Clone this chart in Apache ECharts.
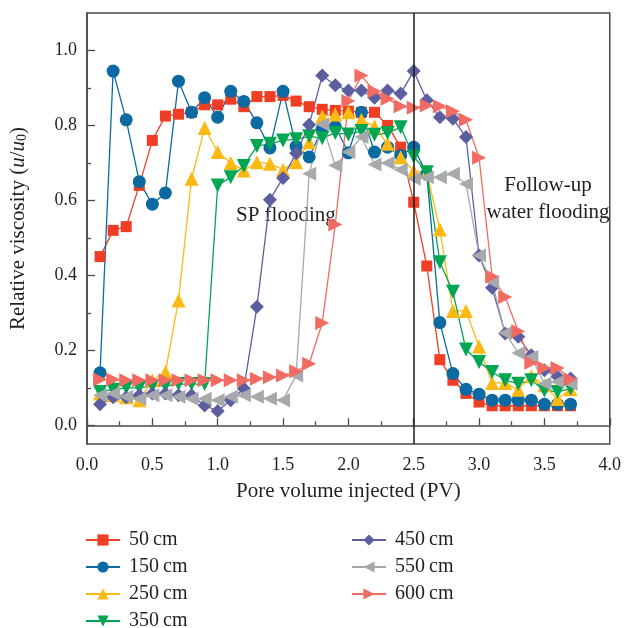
<!DOCTYPE html>
<html>
<head>
<meta charset="utf-8">
<script src="https://cdn.jsdelivr.net/npm/echarts@6/dist/echarts.min.js"></script>
<style>
  html, body { margin: 0; padding: 0; background: #ffffff; }
  #chart { width: 624px; height: 628px; }
</style>
</head>
<body>
<div id="chart"></div>
<script>
// Pore volume injected (PV) at each sampling step
const pv = [0.1, 0.2, 0.3, 0.4, 0.5, 0.6, 0.7, 0.8, 0.9, 1.0,
            1.1, 1.2, 1.3, 1.4, 1.5, 1.6, 1.7, 1.8, 1.9, 2.0,
            2.1, 2.2, 2.3, 2.4, 2.5, 2.6, 2.7, 2.8, 2.9, 3.0,
            3.1, 3.2, 3.3, 3.4, 3.5, 3.6, 3.7];

// Relative viscosity u/u0 measured at each sampling point along the core
const cm50  = [0.45, 0.52, 0.53, 0.64, 0.76, 0.825, 0.83, 0.835, 0.855, 0.855,
               0.87, 0.85, 0.877, 0.877, 0.88, 0.865, 0.85, 0.843, 0.84, 0.838,
               0.835, 0.835, 0.80, 0.742, 0.595, 0.425, 0.175, 0.12, 0.085, 0.062,
               0.052, 0.052, 0.052, 0.052, 0.052, 0.052, 0.052];
const cm150 = [0.14, 0.945, 0.815, 0.65, 0.59, 0.62, 0.918, 0.835, 0.874, 0.822,
               0.891, 0.864, 0.807, 0.74, 0.891, 0.744, 0.716, 0.79, 0.797, 0.727,
               0.835, 0.729, 0.742, 0.72, 0.742, 0.67, 0.274, 0.138, 0.096, 0.083,
               0.067, 0.067, 0.067, 0.067, 0.056, 0.056, 0.056];
const cm250 = [0.085, 0.08, 0.075, 0.067, 0.12, 0.142, 0.333, 0.658, 0.793, 0.729,
               0.70, 0.68, 0.702, 0.698, 0.682, 0.702, 0.755, 0.824, 0.829, 0.835,
               0.815, 0.797, 0.751, 0.715, 0.678, 0.675, 0.522, 0.305, 0.305, 0.21,
               0.113, 0.113, 0.095, 0.131, 0.107, 0.07, 0.096];
const cm350 = [0.089, 0.095, 0.1, 0.1, 0.105, 0.105, 0.11, 0.11, 0.11, 0.64,
               0.662, 0.692, 0.745, 0.751, 0.76, 0.763, 0.771, 0.766, 0.78, 0.776,
               0.785, 0.775, 0.78, 0.795, 0.717, 0.675, 0.435, 0.356, 0.202, 0.169,
               0.142, 0.12, 0.111, 0.12, 0.093, 0.089, 0.098];
const cm450 = [0.056, 0.075, 0.075, 0.08, 0.085, 0.085, 0.08, 0.08, 0.053, 0.038,
               0.067, 0.098, 0.316, 0.602, 0.66, 0.726, 0.802, 0.933, 0.907, 0.893,
               0.893, 0.874, 0.893, 0.885, 0.945, 0.867, 0.822, 0.818, 0.769, 0.453,
               0.367, 0.245, 0.236, 0.187, 0.147, 0.13, 0.125];
const cm550 = [0.08, 0.085, 0.076, 0.071, 0.08, 0.08, 0.076, 0.071, 0.071, 0.067,
               0.076, 0.08, 0.076, 0.071, 0.067, 0.133, 0.671, 0.803, 0.693, 0.729,
               0.769, 0.696, 0.70, 0.682, 0.658, 0.662, 0.662, 0.671, 0.644, 0.453,
               0.382, 0.246, 0.193, 0.182, 0.111, 0.116, 0.111];
const cm600 = [0.122, 0.122, 0.12, 0.12, 0.12, 0.12, 0.12, 0.12, 0.12, 0.12,
               0.12, 0.12, 0.124, 0.128, 0.133, 0.144, 0.164, 0.273, 0.536, 0.865,
               0.933, 0.891, 0.871, 0.851, 0.847, 0.853, 0.851, 0.838, 0.815, 0.714,
               0.397, 0.342, 0.251, 0.167, 0.153, 0.153, 0.123];

// Legend names (distance from the injection end)
const names = ['50\u2009cm', '150\u2009cm', '250\u2009cm', '350\u2009cm',
               '450\u2009cm', '550\u2009cm', '600\u2009cm'];

// Axis ticks
const yMajorTicks = [0, 0.2, 0.4, 0.6, 0.8, 1.0];
const yMinorTicks = [0.1, 0.3, 0.5, 0.7, 0.9];

// Switch from SP flooding to follow-up water flooding
const stageBoundary = 2.5;

const FONT = 'Liberation Serif';
const AXIS_COLOR = '#4a4a4a';
const TEXT_COLOR = '#231f20';

function makeSeries(name, values, symbol, color, size, rotate) {
  return {
    name: name,
    type: 'line',
    data: pv.map((x, i) => [x, values[i]]),
    symbol: symbol,
    symbolSize: size,
    symbolRotate: rotate || 0,
    itemStyle: { color: color, opacity: 1 },
    lineStyle: { color: color, width: 1.3 },
    emphasis: { disabled: true },
    animation: false
  };
}

const series = [
  makeSeries(names[0], cm50,  'rect',     '#ef3e23', 11),
  makeSeries(names[1], cm150, 'circle',   '#0b6aa2', 13),
  makeSeries(names[2], cm250, 'triangle', '#fdb913', 14),
  makeSeries(names[3], cm350, 'triangle', '#00a651', 14, 180),
  makeSeries(names[4], cm450, 'diamond',  '#5b5fa0', 14),
  makeSeries(names[5], cm550, 'triangle', '#a7a9ac', 14, 90),
  makeSeries(names[6], cm600, 'triangle', '#f26b63', 14, -90)
];

series[6].markLine = {
  silent: true,
  symbol: ['none', 'none'],
  label: { show: false },
  lineStyle: { color: '#1a1a1a', width: 1.5, type: 'solid' },
  data: [{ xAxis: stageBoundary }],
  animation: false
};

const legendBase = {
  orient: 'vertical', top: 525, height: 110,
  itemWidth: 34, itemHeight: 14, itemGap: 7,
  textStyle: { fontFamily: FONT, fontSize: 20, color: TEXT_COLOR, padding: [0, 0, 0, 4] },
  selectedMode: false
};

const option = {
  backgroundColor: '#ffffff',
  animation: false,
  grid: {
    left: 81, right: 14, top: 13, bottom: 184,
    show: true, borderColor: AXIS_COLOR, borderWidth: 1.5
  },
  legend: [
    Object.assign({}, legendBase, { data: names.slice(0, 4), left: 80 }),
    Object.assign({}, legendBase, { data: names.slice(4), left: 346 })
  ],
  xAxis: {
    type: 'value', min: 0, max: 4, interval: 0.5,
    name: 'Pore volume injected (PV)',
    nameLocation: 'middle', nameGap: 37,
    nameTextStyle: { fontFamily: FONT, fontSize: 21, color: TEXT_COLOR },
    axisLine: { lineStyle: { color: AXIS_COLOR, width: 1.5 } },
    axisTick: { inside: true, length: 7, lineStyle: { color: AXIS_COLOR, width: 1.3 } },
    minorTick: { show: true, splitNumber: 2, length: 4, lineStyle: { color: AXIS_COLOR, width: 1.3 } },
    splitLine: { show: false },
    axisLabel: {
      margin: 12, fontFamily: FONT, fontSize: 18, color: TEXT_COLOR,
      formatter: v => v.toFixed(1)
    }
  },
  yAxis: [
    {
      type: 'value', min: -0.05, max: 1.1, position: 'left',
      name: '{a|Relative viscosity (}{i|u}{a|/}{i|u}{s|0}{a|)}',
      nameLocation: 'middle', nameGap: 58,
      nameTextStyle: {
        rich: {
          a: { fontFamily: FONT, fontSize: 21, color: TEXT_COLOR },
          i: { fontFamily: FONT, fontSize: 21, fontStyle: 'italic', color: TEXT_COLOR },
          s: { fontFamily: FONT, fontSize: 14, color: TEXT_COLOR, verticalAlign: 'bottom' }
        }
      },
      axisLine: { lineStyle: { color: AXIS_COLOR, width: 1.5 } },
      axisTick: {
        inside: true, length: 8, customValues: yMajorTicks,
        lineStyle: { color: AXIS_COLOR, width: 1.3 }
      },
      splitLine: { show: false },
      axisLabel: {
        customValues: yMajorTicks, margin: 10,
        fontFamily: FONT, fontSize: 18, color: TEXT_COLOR,
        formatter: v => v.toFixed(1)
      }
    },
    {
      type: 'value', min: -0.05, max: 1.1, position: 'left',
      axisLine: { show: false },
      axisTick: {
        inside: true, length: 4, customValues: yMinorTicks,
        lineStyle: { color: AXIS_COLOR, width: 1.3 }
      },
      axisLabel: { show: false },
      splitLine: { show: false }
    }
  ],
  graphic: [
    {
      type: 'text', silent: true,
      style: {
        x: 236, y: 215, text: 'SP flooding', verticalAlign: 'middle',
        fontFamily: FONT, fontSize: 21, fill: TEXT_COLOR
      }
    },
    {
      type: 'text', silent: true,
      style: {
        x: 548, y: 185, text: 'Follow-up', align: 'center', verticalAlign: 'middle',
        fontFamily: FONT, fontSize: 21, fill: TEXT_COLOR
      }
    },
    {
      type: 'text', silent: true,
      style: {
        x: 548, y: 212, text: 'water flooding', align: 'center', verticalAlign: 'middle',
        fontFamily: FONT, fontSize: 21, fill: TEXT_COLOR
      }
    }
  ],
  series: series
};

const chart = echarts.init(document.getElementById('chart'), null, { renderer: 'canvas' });
chart.setOption(option);
</script>
</body>
</html>
